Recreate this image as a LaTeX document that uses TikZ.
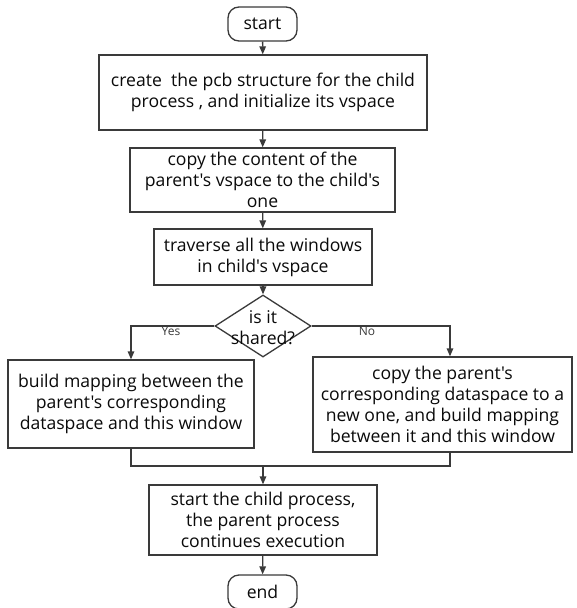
\documentclass[tikz,border=0pt]{standalone}
\usepackage{fontspec}
\setmainfont{Open Sans}[Ligatures=TeXOff]
\usetikzlibrary{arrows.meta,shapes.geometric}
\definecolor{linec}{HTML}{3A3A3A}
\definecolor{textc}{HTML}{0A0A0A}
\begin{document}
\begin{tikzpicture}[x=1pt,y=-1pt,
  base/.style={draw=linec, line width=1.3pt, fill=white, inner sep=0pt,
    align=center, text=textc, font=\fontsize{17.6}{21}\selectfont},
  stepbox/.style={base, rectangle},
  term/.style={base, rectangle, rounded corners=11pt,
    minimum width=69pt, minimum height=34pt},
  choice/.style={base, diamond, minimum width=96pt, minimum height=62pt},
  flow/.style={draw=linec, line width=1.3pt,
    -{Triangle[length=8pt,width=6.5pt]}},
  link/.style={draw=linec, line width=1.3pt},
  tag/.style={text=linec, inner sep=0pt, font=\fontsize{12}{13}\selectfont}]
\useasboundingbox (0,0) rectangle (576,608);

% steps of the fork procedure
\node[term] (start) at (262.5,24) {start};
\node[stepbox, minimum width=328pt, minimum height=75pt] (create) at (263,92.5)
  {create\ \ the pcb structure for the child\\process , and initialize its vspace};
\node[stepbox, minimum width=265pt, minimum height=64pt] (copy) at (262.5,180)
  {copy the content of the\\parent's vspace to the child's\\one};
\node[stepbox, minimum width=218pt, minimum height=56pt] (trav) at (263,257)
  {traverse all the windows\\in child's vspace};
\node[choice] (dec) at (263,326) {};
\node[align=center, text=textc, inner sep=0pt, font=\fontsize{17.6}{21}\selectfont]
  (dectext) at (263,327.5) {is it\\shared?};
\node[stepbox, minimum width=246pt, minimum height=88pt] (shared) at (131,404)
  {build mapping between the\\parent's corresponding\\dataspace and this window};
\node[stepbox, minimum width=259pt, minimum height=95pt] (private) at (442.5,404.5)
  {copy the parent's\\corresponding dataspace to a\\new one, and build mapping\\between it and this window};
\node[stepbox, minimum width=228pt, minimum height=70pt] (run) at (263,520)
  {start the child process,\\the parent process\\continues execution};
\node[term] (stop) at (262.5,592) {end};

% branch columns and join point
\coordinate (rx) at (450,326);
\coordinate (join) at (263,466);

% connectors
\draw[flow] (start) -- (create);
\draw[flow] (create) -- (copy);
\draw[flow] (copy) -- (trav);
\draw[flow] (trav) -- (dec.north);
\draw[flow] (dec.west) -| (shared.north);
\draw[flow] (dec.east) -| (rx |- private.north);
\draw[link] (shared.south) |- (join);
\draw[link] (rx |- private.south) |- (join);
\draw[flow] (join) -- (run);
\draw[flow] (run) -- (stop);

% branch labels
\node[tag] (yes) at (171,331) {Yes};
\node[tag] (no) at (367,331) {No};
\end{tikzpicture}
\end{document}
